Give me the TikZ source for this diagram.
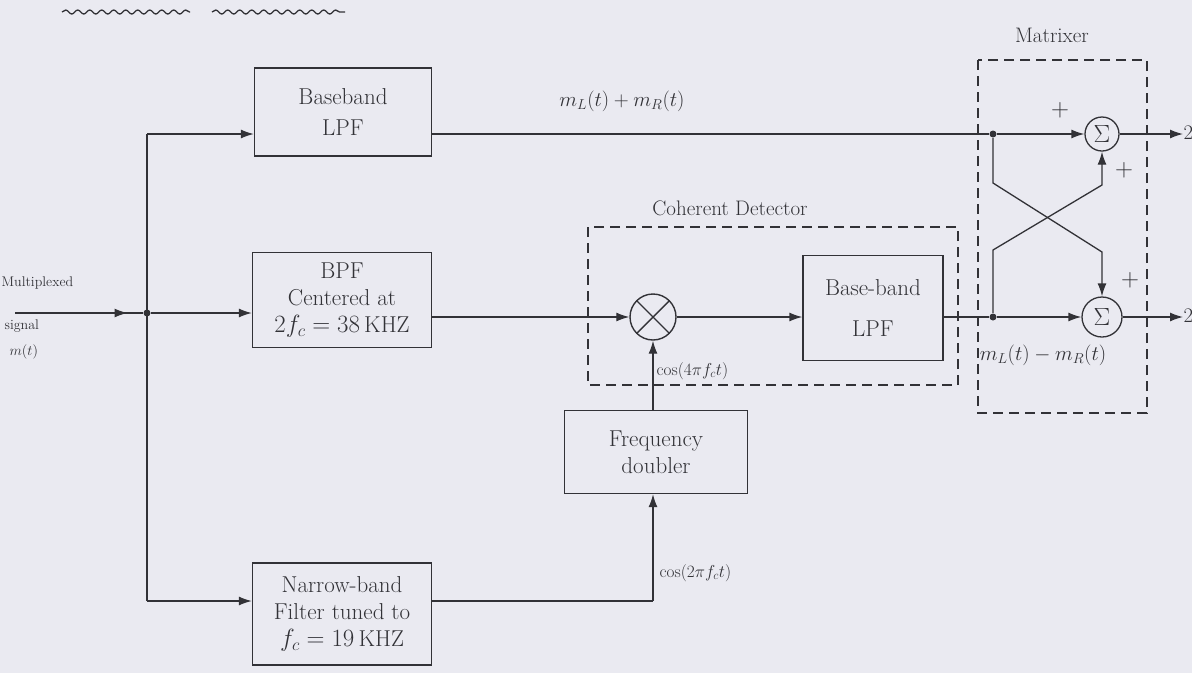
\documentclass[tikz,border=0pt]{standalone}
\usetikzlibrary{arrows.meta,decorations.markings,decorations.pathmorphing}
\definecolor{bg}{RGB}{234,234,241}
\definecolor{ink}{RGB}{50,50,55}
\begin{document}
\begin{tikzpicture}[x=1pt,y=-1pt,
  line width=1.3pt, draw=ink, text=ink,
  every node/.style={text=ink},
  blk/.style={draw=ink, line width=1.3pt, rectangle, align=center, font=\fontsize{23}{27}\selectfont, inner sep=2pt},
  arr/.style={draw=ink, -{Latex[length=13pt,width=9pt]}},
  midarr/.style={draw=ink, decoration={markings, mark=at position #1 with {\arrow{Latex[length=13pt,width=9pt]}}}, postaction={decorate}},
  dotn/.style={circle, fill=ink, inner sep=0pt, minimum size=7pt},
  sumn/.style={circle, draw=ink, line width=1.3pt, inner sep=0pt},
  dashbox/.style={draw=ink, line width=1.2pt, dash pattern=on 10pt off 6pt},
  lbl/.style={font=\fontsize{21}{24}\selectfont, inner sep=1pt},
  small/.style={font=\fontsize{17}{20}\selectfont, inner sep=1pt},
  side/.style={font=\fontsize{14}{16}\selectfont, inner sep=1pt}
]
\fill[bg] (0,0) rectangle (1192,673);
\clip (0,0) rectangle (1192,673);

% heading underline
\draw[decorate, decoration={snake, amplitude=2pt, segment length=12pt}] (62,12) -- (190,12);
\draw[decorate, decoration={snake, amplitude=2pt, segment length=12pt}] (212,12) -- (345,12);

% blocks
\node[blk, minimum width=177, minimum height=88] (bb) at (343,112) {Baseband\\[4pt]LPF};
\node[blk, minimum width=179, minimum height=95] (bpf) at (342,300) {BPF\\Centered at\\$2f_c=38\,$KHZ};
\node[blk, minimum width=179, minimum height=102] (nb) at (342,614) {Narrow-band\\Filter tuned to\\$f_c=19\,$KHZ};
\node[blk, minimum width=140, minimum height=105] (lpf) at (873,308) {Base-band\\[14pt]LPF};
\node[blk, minimum width=183, minimum height=83] (fd) at (656,452) {Frequency\\doubler};

% multiplier and summers
\node[circle, draw=ink, line width=1.4pt, minimum size=46pt, inner sep=0pt,
  path picture={\draw[line width=1.4pt] (path picture bounding box.north west) -- (path picture bounding box.south east)
    (path picture bounding box.north east) -- (path picture bounding box.south west);}] (mult) at (653,317) {};
\node[sumn, minimum size=34pt, font=\fontsize{24}{24}\selectfont] (s1) at (1102,134) {$\Sigma$};
\node[sumn, minimum size=40pt, font=\fontsize{28}{28}\selectfont] (s2) at (1102,317) {$\Sigma$};

% junctions and coordinates
\coordinate (in) at (15,313);
\node[dotn] (jn) at (147,313) {};
\coordinate (bt) at (147,134);
\coordinate (bbot) at (147,601);
\node[dotn] (j1) at (993,134) {};
\node[dotn] (j2) at (993,317) {};
\coordinate (c1a) at (993,183);
\coordinate (c1b) at (1102,252);
\coordinate (c2a) at (993,250);
\coordinate (c2b) at (1102,185);
\coordinate (nbc) at (653,601);
\coordinate (o1) at (1183,134);
\coordinate (o2) at (1183,317);

% input and bus
\draw[midarr=0.88] (in) -- (jn);
\draw (bt) -- (bbot);
\draw[arr] (bt) -- (bt -| bb.west);
\draw[arr] (jn) -- (jn -| bpf.west);
\draw[arr] (bbot) -- (bbot -| nb.west);

% upper path
\draw (bt -| bb.east) -- (j1);
\draw[arr] (j1) -- (s1.west);
% middle path
\draw[arr] (mult -| bpf.east) -- (mult.west);
\draw[arr] (mult.east) -- (mult -| lpf.west);
\draw (mult -| lpf.east) -- (j2);
\draw[arr] (j2) -- (s2.west);
% cross
\draw[arr] (j1) -- (c1a) -- (c1b) -- (s2.north);
\draw[arr] (j2) -- (c2a) -- (c2b) -- (s1.south);
% outputs
\draw[arr] (s1.east) -- (o1);
\draw[arr] (s2.east) -- (o2);
\node[lbl, anchor=west, inner sep=0pt] at (o1) {$2m_L(t)$};
\node[lbl, anchor=west, inner sep=0pt] at (o2) {$2m_R(t)$};

% lower path
\draw (nb.east |- nbc) -- (nbc);
\draw[arr] (nbc) -- (nbc |- fd.south);
\draw[arr] (mult |- fd.north) -- (mult.south);

% dashed boxes
\draw[dashbox] (588,227) rectangle (958,385);
\draw[dashbox] (978,60) rectangle (1147,413);

% labels
\node[lbl] at (622,101) {$m_L(t)+m_R(t)$};
\node[lbl] at (730,208) {Coherent Detector};
\node[lbl] at (1052,35) {Matrixer};
\node[small, anchor=west] at (655,371) {$\cos(4\pi f_c t)$};
\node[small, anchor=west] at (658,573) {$\cos(2\pi f_c t)$};
\node[lbl] at (1043,355) {$m_L(t)-m_R(t)$};
\node[lbl, font=\fontsize{24}{24}\selectfont] at (1060,110) {$+$};
\node[lbl, font=\fontsize{24}{24}\selectfont] at (1124,170) {$+$};
\node[lbl, font=\fontsize{24}{24}\selectfont] at (1130,280) {$+$};
\node[side, anchor=west] at (0,283) {Multiplexed};
\node[side, anchor=west] at (3,326) {signal};
\node[side, anchor=west] at (8,352) {$m(t)$};
\end{tikzpicture}
\end{document}
